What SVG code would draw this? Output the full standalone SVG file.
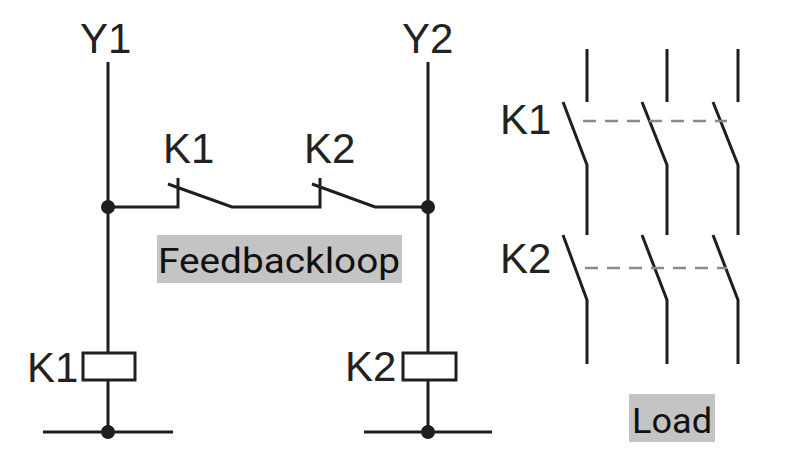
<svg xmlns="http://www.w3.org/2000/svg" width="800" height="474" viewBox="0 0 800 474">
<style>
.w{stroke:#1e1e1e;stroke-width:3;fill:none;stroke-linecap:butt}
.d{stroke:#8a8a8a;stroke-width:2.5;fill:none;stroke-dasharray:13 9}
.lbl{font-family:"Liberation Sans",Arial,sans-serif;font-size:42px;fill:#222}
.tag{font-family:Roboto,"Liberation Sans",sans-serif;font-size:35px;fill:#111}
.bg{fill:#c4c4c4}
.dot{fill:#1e1e1e}
</style>
<rect width="800" height="474" fill="#fff"/>
<g id="connectors">
<path class="w" d="M108 62V353M108 380V432M43 432H173"/>
<path class="w" d="M428 62V353M428 380V432M364 432H492"/>
<path class="w" d="M108 207H178V178M168 184L232 207H320V178M312 184L375 207H428"/>
</g>
<g id="Y1"><text class="lbl" x="80" y="53">Y1</text></g>
<g id="Y2"><text class="lbl" x="402" y="53">Y2</text></g>
<g id="contact-K1"><text class="lbl" x="163" y="163">K1</text></g>
<g id="contact-K2"><text class="lbl" x="304" y="163">K2</text></g>
<g id="feedback"><rect class="bg" x="157" y="235" width="245" height="48"/><text class="tag" x="158" y="273" textLength="242" lengthAdjust="spacingAndGlyphs">Feedbackloop</text></g>
<g id="coil-K1"><rect class="w" x="83" y="353" width="52" height="27"/><text class="lbl" x="27" y="382">K1</text></g>
<g id="coil-K2"><rect class="w" x="403" y="353" width="53" height="27"/><text class="lbl" x="345" y="381">K2</text></g>
<g id="junctions"><circle class="dot" cx="108" cy="207" r="7"/><circle class="dot" cx="428" cy="207" r="7"/><circle class="dot" cx="108" cy="432" r="7"/><circle class="dot" cx="428" cy="432" r="7"/></g>
<g id="load-K1">
<text class="lbl" x="500" y="134">K1</text>
<path class="w" d="M587 49V102M667 49V102M738 49V102M563 102L587 165V235M642 102L667 165V235M713 102L738 165V235"/>
<path class="d" d="M583 121H727"/>
</g>
<g id="load-K2">
<text class="lbl" x="500" y="273">K2</text>
<path class="w" d="M563 235L587 300V364M642 235L667 300V364M713 235L738 300V364"/>
<path class="d" d="M585 268H727"/>
</g>
<g id="load"><rect class="bg" x="629" y="394" width="86" height="48"/><text class="tag" x="632" y="433" textLength="80" lengthAdjust="spacingAndGlyphs">Load</text></g>
</svg>
